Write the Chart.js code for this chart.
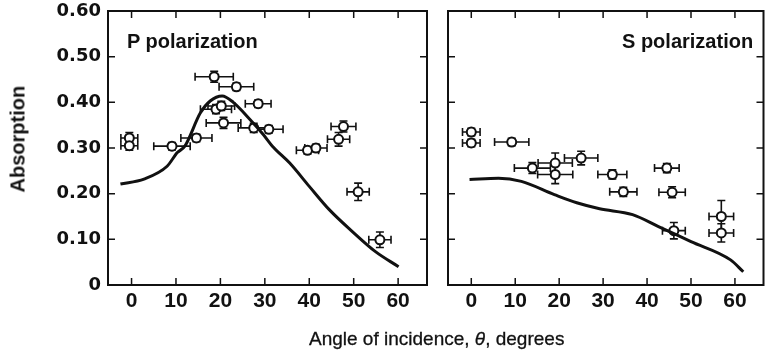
<!DOCTYPE html>
<html>
<head>
<meta charset="utf-8">
<script src="https://cdn.jsdelivr.net/npm/chart.js@4.4.1/dist/chart.umd.min.js"></script>
<style>
  body { margin: 0; background: #fff; }
  #wrap { position: relative; width: 770px; height: 354px; overflow: hidden; }
  canvas { position: absolute; top: 0; }
  .lbl { position: absolute; font-family: 'Liberation Sans', Arial, sans-serif; color: #111; white-space: nowrap; }
</style>
</head>
<body>
<div id="wrap">
  <canvas id="pChart" width="440" height="354" style="left:0"></canvas>
  <canvas id="sChart" width="330" height="354" style="left:440px"></canvas>
  <div class="lbl" style="left:127px;top:30px;font-size:20px;font-weight:bold">P polarization</div>
  <div class="lbl" style="left:622px;top:30px;font-size:20px;font-weight:bold">S polarization</div>
  <div class="lbl" style="left:-32px;top:131px;font-size:20px;font-weight:bold;transform:rotate(-90deg);width:100px;text-align:center">Absorption</div>
  <div class="lbl" style="left:309px;top:328px;font-size:19px;-webkit-text-stroke:0.3px #111">Angle of incidence, <i>θ</i>, degrees</div>
</div>
<script>
// tick values
const xTicks = [0, 10, 20, 30, 40, 50, 60];
const yTicks = [0, 0.1, 0.2, 0.3, 0.4, 0.5, 0.6];

// P polarization measurements
const pAngle    = [-0.5, -0.5, 9.1, 14.6, 18.6, 23.6, 28.5, 19.0, 20.2, 20.7, 27.5, 30.9, 39.6, 41.5, 46.6, 47.7, 51.0, 55.9];
const pAbs      = [0.322, 0.305, 0.304, 0.322, 0.456, 0.434, 0.397, 0.385, 0.392, 0.355, 0.344, 0.341, 0.295, 0.300, 0.319, 0.347, 0.204, 0.099];
const pAngleErr = [1.9, 1.9, 4.1, 3.5, 4.3, 3.9, 2.9, 3.5, 3.0, 3.9, 3.5, 3.2, 2.5, 2.5, 2.5, 2.8, 2.5, 2.5];
const pAbsErr   = [0.012, 0.01, 0.008, 0.008, 0.012, 0.008, 0.008, 0.01, 0.01, 0.012, 0.01, 0.008, 0.008, 0.008, 0.015, 0.012, 0.019, 0.017];

// P polarization theory curve
const pCurveAngle = [-2.5, 2.8, 8.0, 10.3, 12.0, 15.5, 17.7, 20.4, 22.9, 26.6, 29.6, 31.7, 35.6, 40.0, 44.5, 49.7, 54.9, 60.1];
const pCurveAbs   = [0.221, 0.232, 0.260, 0.290, 0.304, 0.377, 0.403, 0.414, 0.400, 0.363, 0.330, 0.304, 0.267, 0.216, 0.165, 0.117, 0.073, 0.040];

// S polarization measurements
const sAngle    = [0, 0, 9.2, 13.9, 19.1, 19.1, 25.0, 32.1, 34.6, 44.5, 45.7, 46.1, 56.9, 56.9];
const sAbs      = [0.335, 0.311, 0.313, 0.256, 0.267, 0.242, 0.278, 0.242, 0.204, 0.256, 0.203, 0.119, 0.150, 0.114];
const sAngleErr = [2.0, 2.0, 3.9, 4.1, 3.9, 4.0, 3.8, 3.3, 3.1, 2.8, 3.0, 2.6, 2.8, 2.8];
const sAbsErr   = [0.008, 0.008, 0.008, 0.012, 0.022, 0.02, 0.015, 0.01, 0.01, 0.01, 0.012, 0.018, 0.035, 0.02];

// S polarization theory curve
const sCurveAngle = [-0.4, 6.2, 11.4, 18.9, 24.0, 29.2, 36.7, 42.6, 50.0, 59.0, 61.9];
const sCurveAbs   = [0.231, 0.234, 0.227, 0.198, 0.180, 0.167, 0.154, 0.128, 0.095, 0.055, 0.029];

Chart.defaults.font.family = "'Liberation Sans', Arial, sans-serif";
Chart.defaults.color = '#111';

const toPoints = (xs, ys) => xs.map((x, i) => ({ x: x, y: ys[i] }));

// inward ticks on all four sides plus the frame
const frameTicks = {
  id: 'frameTicks',
  afterDraw(chart) {
    const { ctx, chartArea: a, scales } = chart;
    ctx.save();
    ctx.strokeStyle = '#111';
    ctx.lineWidth = 1.5;
    xTicks.forEach(v => {
      const px = scales.x.getPixelForValue(v);
      ctx.beginPath();
      ctx.moveTo(px, a.bottom); ctx.lineTo(px, a.bottom - 7);
      ctx.moveTo(px, a.top); ctx.lineTo(px, a.top + 7);
      ctx.stroke();
    });
    yTicks.forEach(v => {
      const py = scales.y.getPixelForValue(v);
      ctx.beginPath();
      ctx.moveTo(a.left, py); ctx.lineTo(a.left + 7, py);
      ctx.moveTo(a.right, py); ctx.lineTo(a.right - 7, py);
      ctx.stroke();
    });
    ctx.lineWidth = 2;
    ctx.strokeRect(a.left, a.top, a.right - a.left, a.bottom - a.top);
    ctx.restore();
  }
};

// error bars with caps, drawn under the markers
const errorBars = {
  id: 'errorBars',
  beforeDatasetsDraw(chart, args, opts) {
    const { ctx, scales } = chart;
    ctx.save();
    ctx.strokeStyle = '#111';
    ctx.lineWidth = 1.6;
    opts.xs.forEach((x, i) => {
      const y = opts.ys[i];
      const x0 = scales.x.getPixelForValue(x - opts.xErr[i]);
      const x1 = scales.x.getPixelForValue(x + opts.xErr[i]);
      const y0 = scales.y.getPixelForValue(y - opts.yErr[i]);
      const y1 = scales.y.getPixelForValue(y + opts.yErr[i]);
      const px = scales.x.getPixelForValue(x);
      const py = scales.y.getPixelForValue(y);
      ctx.beginPath();
      ctx.moveTo(x0, py); ctx.lineTo(x1, py);
      ctx.moveTo(x0, py - 4); ctx.lineTo(x0, py + 4);
      ctx.moveTo(x1, py - 4); ctx.lineTo(x1, py + 4);
      ctx.moveTo(px, y0); ctx.lineTo(px, y1);
      ctx.moveTo(px - 4, y0); ctx.lineTo(px + 4, y0);
      ctx.moveTo(px - 4, y1); ctx.lineTo(px + 4, y1);
      ctx.stroke();
    });
    ctx.restore();
  }
};

function makeChart(id, pts, curve, err, showY, padding) {
  return new Chart(document.getElementById(id), {
    type: 'scatter',
    data: {
      datasets: [
        {
          data: curve,
          showLine: true,
          borderColor: '#111',
          borderWidth: 3,
          pointRadius: 0,
          cubicInterpolationMode: 'monotone'
        },
        {
          data: pts,
          pointRadius: 4.5,
          pointBackgroundColor: '#fff',
          pointBorderColor: '#111',
          pointBorderWidth: 2
        }
      ]
    },
    options: {
      responsive: false,
      animation: false,
      layout: { padding: padding },
      plugins: {
        legend: { display: false },
        tooltip: { enabled: false },
        errorBars: err
      },
      scales: {
        x: {
          type: 'linear',
          min: -5.3,
          max: 66.5,
          grid: { display: false, drawTicks: false },
          border: { display: false },
          afterBuildTicks: s => { s.ticks = xTicks.map(v => ({ value: v })); },
          afterFit: s => { s.height = 69; s.paddingLeft = 0; s.paddingRight = 0; },
          ticks: { padding: 4, font: { size: 21, weight: 'bold' }, maxRotation: 0 }
        },
        y: {
          display: showY,
          min: 0,
          max: 0.6,
          grid: { display: false, drawTicks: false },
          border: { display: false },
          afterBuildTicks: s => { s.ticks = yTicks.map(v => ({ value: v })); },
          afterFit: s => {
            if (showY) s.width = 108;
            s.paddingTop = 0;
            s.paddingBottom = 0;
          },
          ticks: {
            padding: 7,
            font: { family: "'DejaVu Sans', sans-serif", size: 18, weight: 'bold' },
            callback: v => v === 0 ? '0' : v.toFixed(2)
          }
        }
      }
    },
    plugins: [errorBars, frameTicks]
  });
}

makeChart('pChart', toPoints(pAngle, pAbs), toPoints(pCurveAngle, pCurveAbs),
  { xs: pAngle, ys: pAbs, xErr: pAngleErr, yErr: pAbsErr },
  true, { top: 11, right: 13, left: 0, bottom: 0 });

makeChart('sChart', toPoints(sAngle, sAbs), toPoints(sCurveAngle, sCurveAbs),
  { xs: sAngle, ys: sAbs, xErr: sAngleErr, yErr: sAbsErr },
  false, { top: 11, right: 1, left: 8, bottom: 0 });
</script>
</body>
</html>
